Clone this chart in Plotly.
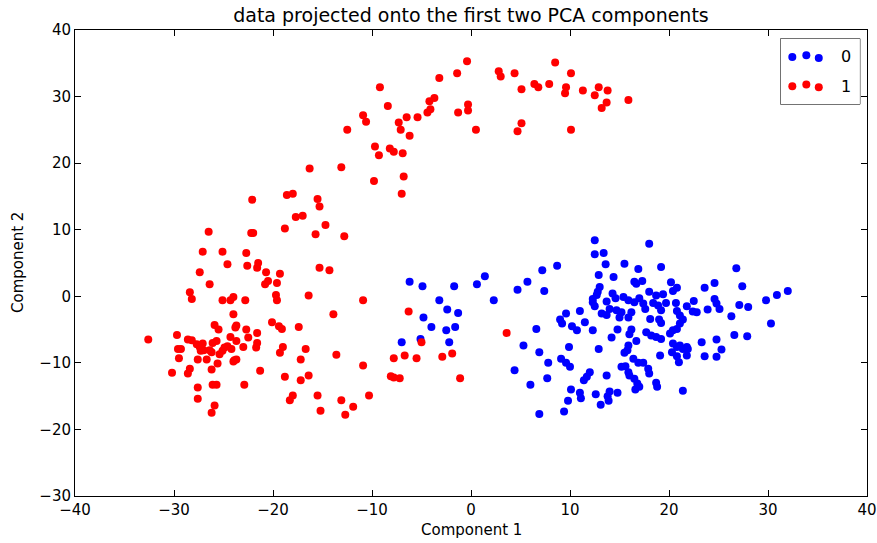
import plotly.graph_objects as go

# PCA projection of the two classes (component 1, component 2)
class0_x = [-6.2, -4.9, -1.7, 0.6, 1.4, 4.7, 5.7, -3.2, 2.3, -2.4, -1.3, -4.8, -4.0, -2.5, -1.6,
            -7.0, -5.1, -2.2, 5.3, 4.4, 6.0, 12.5, 18.0, 12.5, 13.4, 13.6, 15.5, 16.9, 19.2, 8.7,
            7.2, 12.9, 14.4, 7.4, 16.5, 17.3, 16.7, 20.2, 20.8, 20.4, 13.0, 12.8, 12.7, 14.3, 14.6,
            18.0, 18.7, 19.4, 12.3, 12.3, 12.5, 13.7, 15.4, 15.9, 16.5, 17.0, 17.4, 17.6, 18.4, 18.9,
            19.7, 20.7, 21.8, 11.0, 14.7, 15.2, 14.0, 13.2, 13.7, 16.2, 19.2, 20.8, 21.1, 21.4, 21.1,
            9.6, 9.0, 9.2, 15.0, 15.9, 18.1, 19.0, 19.2, 11.5, 10.2, 10.7, 12.3, 14.8, 16.2, 16.0,
            17.7, 18.2, 18.7, 19.2, 20.1, 20.4, 20.8, 6.6, 14.2, 16.7, 9.9, 12.9, 15.9, 15.8, 20.4,
            20.8, 21.1, 21.4, 21.8, 20.3, 20.8, 21.0, 6.9, 19.1, 15.5, 16.4, 16.9, 17.4, 9.1, 9.6,
            10.0, 7.8, 15.2, 15.6, 15.9, 16.0, 17.9, 18.0, 12.0, 11.7, 11.4, 13.7, 16.5, 16.8, 16.6,
            17.0, 7.7, 18.7, 18.8, 10.1, 11.0, 11.1, 12.6, 14.0, 14.8, 13.8, 13.9, 21.4, 9.8, 13.1,
            6.9, 9.4, 26.8, 24.6, 23.6, 27.4, 32.0, 30.9, 29.8, 22.5, 22.4, 22.8, 24.6, 24.8, 25.1,
            27.1, 28.0, 23.9, 26.3, 30.3, 26.6, 27.9, 24.8, 23.3, 21.9, 21.8, 25.3, 24.8, 23.6]
class0_y = [2.2, 1.5, 1.5, 1.8, 3.0, 1.0, 2.2, -0.6, -0.6, -2.0, -2.5, -3.2, -4.6, -5.1, -4.6,
            -6.9, -6.4, -6.9, -7.4, -11.1, -13.3, 8.4, 7.9, 6.3, 6.5, 4.8, 4.9, 4.1, 4.4, 4.6,
            3.9, 3.2, 2.9, 0.8, 2.2, 2.3, 1.9, 2.1, 1.3, 0.8, 1.4, 0.7, 0.2, 0.4, -0.3,
            0.7, 0.1, 0.3, -0.4, -0.9, -1.5, -0.8, -0.1, -0.6, -0.9, -0.3, -1.1, -1.9, -1.0, -1.4,
            -1.0, -1.0, -1.5, -2.2, -2.1, -2.4, -1.9, -2.6, -2.8, -2.4, -2.1, -2.2, -2.9, -3.5, -4.1,
            -2.6, -3.5, -4.1, -3.2, -3.2, -3.4, -3.5, -4.0, -3.9, -4.5, -5.1, -5.1, -5.0, -5.0, -5.7,
            -5.4, -5.9, -6.1, -6.4, -5.6, -5.1, -4.9, -4.9, -6.2, -6.7, -7.6, -7.9, -7.4, -8.1, -7.1,
            -7.6, -7.4, -7.9, -7.6, -8.4, -9.0, -9.9, -8.4, -8.9, -8.5, -9.4, -10.0, -10.0, -9.4, -10.0,
            -10.6, -10.0, -10.6, -10.5, -11.4, -11.9, -10.9, -11.6, -11.4, -12.1, -12.6, -11.9, -12.4, -13.1, -14.0,
            -13.6, -12.3, -13.0, -13.6, -14.0, -14.5, -15.3, -14.7, -14.3, -14.5, -15.0, -15.7, -14.2, -15.7, -16.3,
            -17.7, -17.3, 4.2, 2.0, 1.3, 1.5, 0.8, 0.2, -0.6, -0.7, -2.3, -2.4, -0.4, -1.1, -1.9,
            -1.3, -1.6, -2.0, -3.0, -4.1, -5.8, -6.0, -6.5, -6.9, -7.9, -8.9, -8.0, -9.1, -9.0]

class1_x = [-0.4, 8.5, -1.4, 2.8, 3.0, 4.4, 10.1, -3.2, -9.2, 5.1, 6.4, 6.8, 7.9, 9.6, 9.5,
            11.3, 12.9, 12.5, 13.8, 13.7, 13.2, 15.9, -8.4, -3.7, -4.2, -4.1, -4.4, -0.3, -0.3, -1.3,
            -7.3, -7.1, -6.5, -5.4, -6.2, 0.5, 5.1, 4.7, 10.1, -9.7, -9.3, -8.2, -7.8, -6.9, -9.8,
            -6.8, -7.0, -10.9, -10.6, -12.5, -16.3, -13.1, -22.1, -18.6, -18.0, -15.5, -15.3, -17.7, -17.0, -26.5,
            -22.2, -22.0, -18.8, -15.7, -14.7, -12.8, -27.1, -25.1, -22.7, -24.6, -22.6, -21.5, -21.6, -20.7, -19.3,
            -27.4, -15.3, -14.3, -26.4, -20.5, -20.8, -19.6, -28.4, -28.2, -25.1, -24.3, -24.0, -22.8, -19.7, -19.6,
            -16.4, -10.9, -24.0, -13.9, -25.9, -25.5, -23.7, -23.8, -20.1, -19.4, -19.1, -17.4, -32.6, -29.7, -28.6,
            -28.2, -22.7, -21.6, -24.3, -22.5, -23.7, -26.1, -25.7, -27.7, -27.1, -29.6, -29.3, -27.4, -27.0, -27.3,
            -26.4, -26.2, -24.9, -24.6, -25.1, -24.2, -23.0, -21.6, -21.7, -19.0, -19.3, -16.7, -13.6, -25.4, -29.5,
            -27.6, -26.7, -23.9, -23.7, -24.0, -17.2, -25.6, -10.9, -28.4, -28.6, -30.2, -26.2, -21.3, -18.8, -17.2,
            -16.4, -26.1, -25.7, -22.9, -27.6, -18.0, -18.3, -15.5, -13.1, -10.3, -27.6, -11.9, -25.9, -15.2, -12.7,
            -26.2, -6.3, -5.0, 3.6, -7.8, -6.7, -5.5, -2.9, -1.9, -8.1, -7.8, -7.2, -1.1]
class1_y = [35.3, 35.1, 33.5, 33.8, 33.0, 33.5, 33.5, 32.8, 31.4, 31.1, 31.9, 31.4, 31.9, 31.4, 30.5,
            30.9, 31.4, 30.2, 30.9, 29.1, 28.3, 29.5, 28.6, 29.8, 29.3, 28.1, 27.6, 28.8, 27.9, 27.6,
            26.1, 25.0, 26.9, 26.9, 24.1, 25.0, 26.0, 24.8, 25.0, 22.5, 21.2, 22.2, 21.7, 21.5, 17.3,
            18.0, 15.4, 27.2, 26.2, 25.0, 19.2, 19.4, 14.5, 15.2, 15.4, 14.6, 13.5, 11.9, 12.1, 9.7,
            9.5, 9.5, 10.2, 9.3, 10.7, 9.0, 6.7, 6.7, 6.5, 4.8, 4.6, 5.0, 4.3, 3.6, 3.4,
            3.6, 4.3, 3.9, 1.8, 2.3, 1.8, 2.0, 0.6, -0.4, -0.6, -0.6, -0.1, -0.6, 0.2, -0.6,
            0.1, -0.6, -2.7, -2.7, -4.3, -5.0, -4.4, -4.7, -3.9, -4.5, -4.9, -4.6, -6.5, -5.8, -6.5,
            -6.6, -5.0, -5.5, -6.1, -6.2, -6.7, -7.0, -6.7, -7.2, -7.1, -7.9, -7.9, -7.6, -8.1, -8.2,
            -8.1, -8.4, -7.7, -7.5, -8.2, -7.9, -7.6, -7.0, -7.7, -7.6, -8.5, -7.9, -8.8, -8.7, -9.3,
            -9.5, -9.5, -9.6, -9.5, -9.8, -9.5, -10.1, -10.4, -10.9, -11.6, -11.5, -11.0, -11.2, -12.1, -12.6,
            -11.9, -13.3, -13.3, -13.3, -13.7, -14.9, -15.6, -14.9, -15.6, -14.9, -15.4, -16.6, -16.4, -17.2, -17.8,
            -17.5, -2.3, -6.9, -5.5, -9.3, -8.9, -9.3, -9.1, -8.6, -12.0, -12.2, -12.3, -12.3]

labels = ["0", "1"]
colors = ["#0000ff", "#ff0000"]

x_ticks = [-40, -30, -20, -10, 0, 10, 20, 30, 40]
x_ticktext = ["\u221240", "\u221230", "\u221220", "\u221210", "0", "10", "20", "30", "40"]
y_ticks = [-30, -20, -10, 0, 10, 20, 30, 40]
y_ticktext = ["\u221230", "\u221220", "\u221210", "0", "10", "20", "30", "40"]

FONT = "DejaVu Sans, sans-serif"

fig = go.Figure()
for xs, ys, c in [(class0_x, class0_y, colors[0]), (class1_x, class1_y, colors[1])]:
    fig.add_trace(go.Scatter(x=xs, y=ys, mode="markers",
                             marker=dict(color=c, size=8, line=dict(width=0)),
                             showlegend=False, hoverinfo="skip"))

# legend drawn matplotlib-style: three dots per entry inside a framed box
leg_dom_x = [0.891, 0.991]
leg_dom_y = [0.8405, 0.9815]
leg_dot_x = [0.147, 0.324, 0.481]
leg_dot_y = [[0.72, 0.746, 0.705], [0.274, 0.30, 0.259]]
for i, lab in enumerate(labels):
    fig.add_trace(go.Scatter(x=leg_dot_x, y=leg_dot_y[i], mode="markers",
                             marker=dict(color=colors[i], size=8, line=dict(width=0)),
                             xaxis="x2", yaxis="y2", showlegend=False, hoverinfo="skip"))
    fig.add_annotation(x=0.83, y=sum(leg_dot_y[i]) / 3, xref="x2", yref="y2",
                       text=lab, showarrow=False, xanchor="center", yanchor="middle",
                       font=dict(family=FONT, size=16, color="black"))

fig.add_shape(type="rect", xref="paper", yref="paper",
              x0=leg_dom_x[0], x1=leg_dom_x[1], y0=leg_dom_y[0], y1=leg_dom_y[1],
              line=dict(color="black", width=1), fillcolor="white", layer="below")

axis_common = dict(showline=True, linecolor="black", linewidth=1, mirror="ticks",
                   ticks="inside", ticklen=6, tickcolor="black", showgrid=False,
                   zeroline=False, ticklabeloverflow="allow", automargin=False,
                   tickfont=dict(family=FONT, size=15, color="black"))

fig.update_layout(
    width=877, height=543,
    margin=dict(l=75, r=10, t=30, b=47),
    paper_bgcolor="white", plot_bgcolor="white",
    title=dict(text="data projected onto the first two PCA components",
               x=0.5, xref="paper", xanchor="center",
               y=1 - 15 / 543, yref="container", yanchor="middle", automargin=False,
               font=dict(family=FONT, size=19, color="black")),
    xaxis=dict(range=[-40, 40], tickvals=x_ticks, ticktext=x_ticktext, **axis_common),
    yaxis=dict(range=[-30, 40], tickvals=y_ticks, ticktext=y_ticktext, **axis_common),
    xaxis2=dict(domain=leg_dom_x, range=[0, 1], visible=False, anchor="y2", automargin=False),
    yaxis2=dict(domain=leg_dom_y, range=[0, 1], visible=False, anchor="x2", automargin=False),
    showlegend=False,
)

fig.add_annotation(text="Component 1", xref="paper", yref="paper", x=0.5, y=0,
                   yshift=-34, showarrow=False, xanchor="center", yanchor="middle",
                   font=dict(family=FONT, size=15, color="black"))
fig.add_annotation(text="Component 2", xref="paper", yref="paper", x=0, y=0.5,
                   xshift=-57, textangle=-90, showarrow=False,
                   xanchor="center", yanchor="middle",
                   font=dict(family=FONT, size=15, color="black"))

fig.write_html("out.html")
